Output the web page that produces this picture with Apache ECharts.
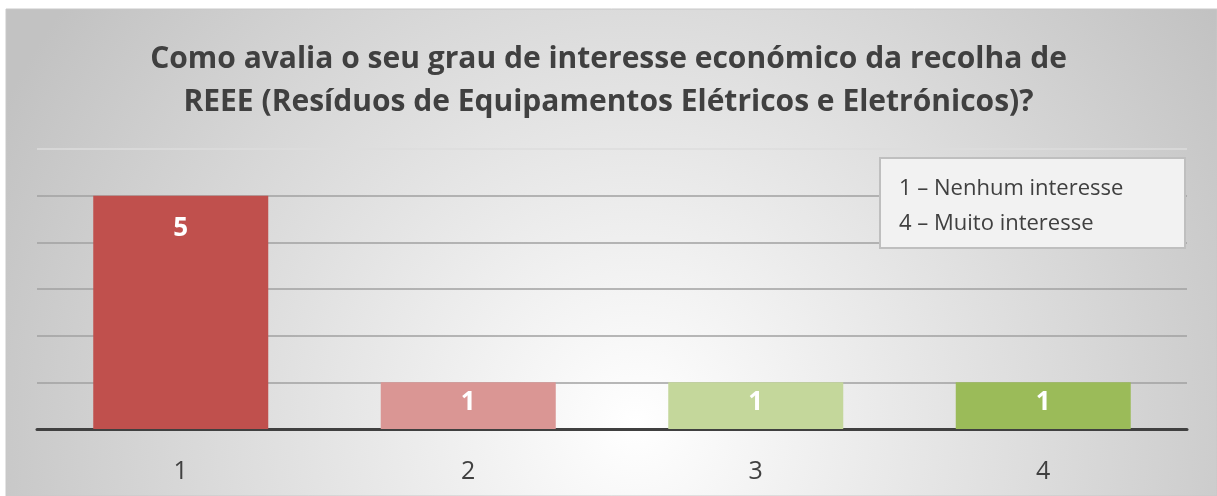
<!DOCTYPE html>
<html>
<head>
<meta charset="utf-8">
<script src="https://cdn.jsdelivr.net/npm/echarts@6/dist/echarts.min.js"></script>
<style>
  html, body { margin: 0; padding: 0; background: #fff; }
  #chart { width: 1217px; height: 496px; }
</style>
</head>
<body>
<div id="chart"></div>
<script>
const categories = ['1', '2', '3', '4']
const counts = [5, 1, 1, 1]
const barColors = ['#C0504D', '#DA9694', '#C4D79B', '#9BBB59']
const legendLines = ['1 – Nenhum interesse', '4 – Muito interesse']

const font = '"Open Sans", "Noto Sans", sans-serif'
const chart = echarts.init(document.getElementById('chart'))

chart.setOption({
  animation: false,
  graphic: [
    {
      type: 'rect', z: -10, silent: true,
      shape: { x: 6, y: 9, width: 1211, height: 487 },
      style: {
        fill: new echarts.graphic.RadialGradient(0.52, 0.85, 1.45, [
          { offset: 0, color: '#ffffff' },
          { offset: 1, color: '#c2c2c2' }
        ]),
        stroke: '#c8c8c8', lineWidth: 1
      }
    },
    {
      type: 'rect', z: 10,
      shape: { x: 880, y: 158, width: 305, height: 90 },
      style: { fill: '#f2f2f2', stroke: '#bfbfbf', lineWidth: 2 }
    },
    {
      type: 'text', z: 11, x: 899, y: 189,
      style: { text: legendLines[0], fontSize: 22, fontFamily: font, fill: '#404040', verticalAlign: 'middle' }
    },
    {
      type: 'text', z: 11, x: 899, y: 224,
      style: { text: legendLines[1], fontSize: 22, fontFamily: font, fill: '#404040', verticalAlign: 'middle' }
    }
  ],
  title: {
    text: 'Como avalia o seu grau de interesse económico da recolha de\nREEE (Resíduos de Equipamentos Elétricos e Eletrónicos)?',
    left: 'center',
    top: 33,
    textStyle: { fontSize: 30, fontWeight: 'bold', fontFamily: font, color: '#404040', lineHeight: 43 }
  },
  grid: { left: 37, right: 30, top: 149, bottom: 67 },
  xAxis: {
    type: 'category',
    data: categories,
    axisLine: { lineStyle: { color: '#404040', width: 3 } },
    axisTick: { show: false },
    axisLabel: { fontSize: 25, fontFamily: font, color: '#404040', margin: 30 }
  },
  yAxis: {
    type: 'value',
    min: 0, max: 6, interval: 1,
    axisLabel: { show: false },
    axisLine: { show: false },
    axisTick: { show: false },
    splitLine: { lineStyle: { color: ['#a0a0a0', '#a0a0a0', '#a0a0a0', '#a0a0a0', '#a0a0a0', '#a0a0a0', '#dcdcdc'], width: 1.5 } }
  },
  series: [{
    type: 'bar',
    data: counts.map((v, i) => ({
      value: v,
      itemStyle: { color: barColors[i] },
      label: { distance: v > 1 ? 20 : 7 }
    })),
    barWidth: 175,
    label: {
      show: true,
      position: 'insideTop',
      color: '#fff',
      fontSize: 26,
      fontWeight: 'bold',
      fontFamily: font
    }
  }]
})
</script>
</body>
</html>
